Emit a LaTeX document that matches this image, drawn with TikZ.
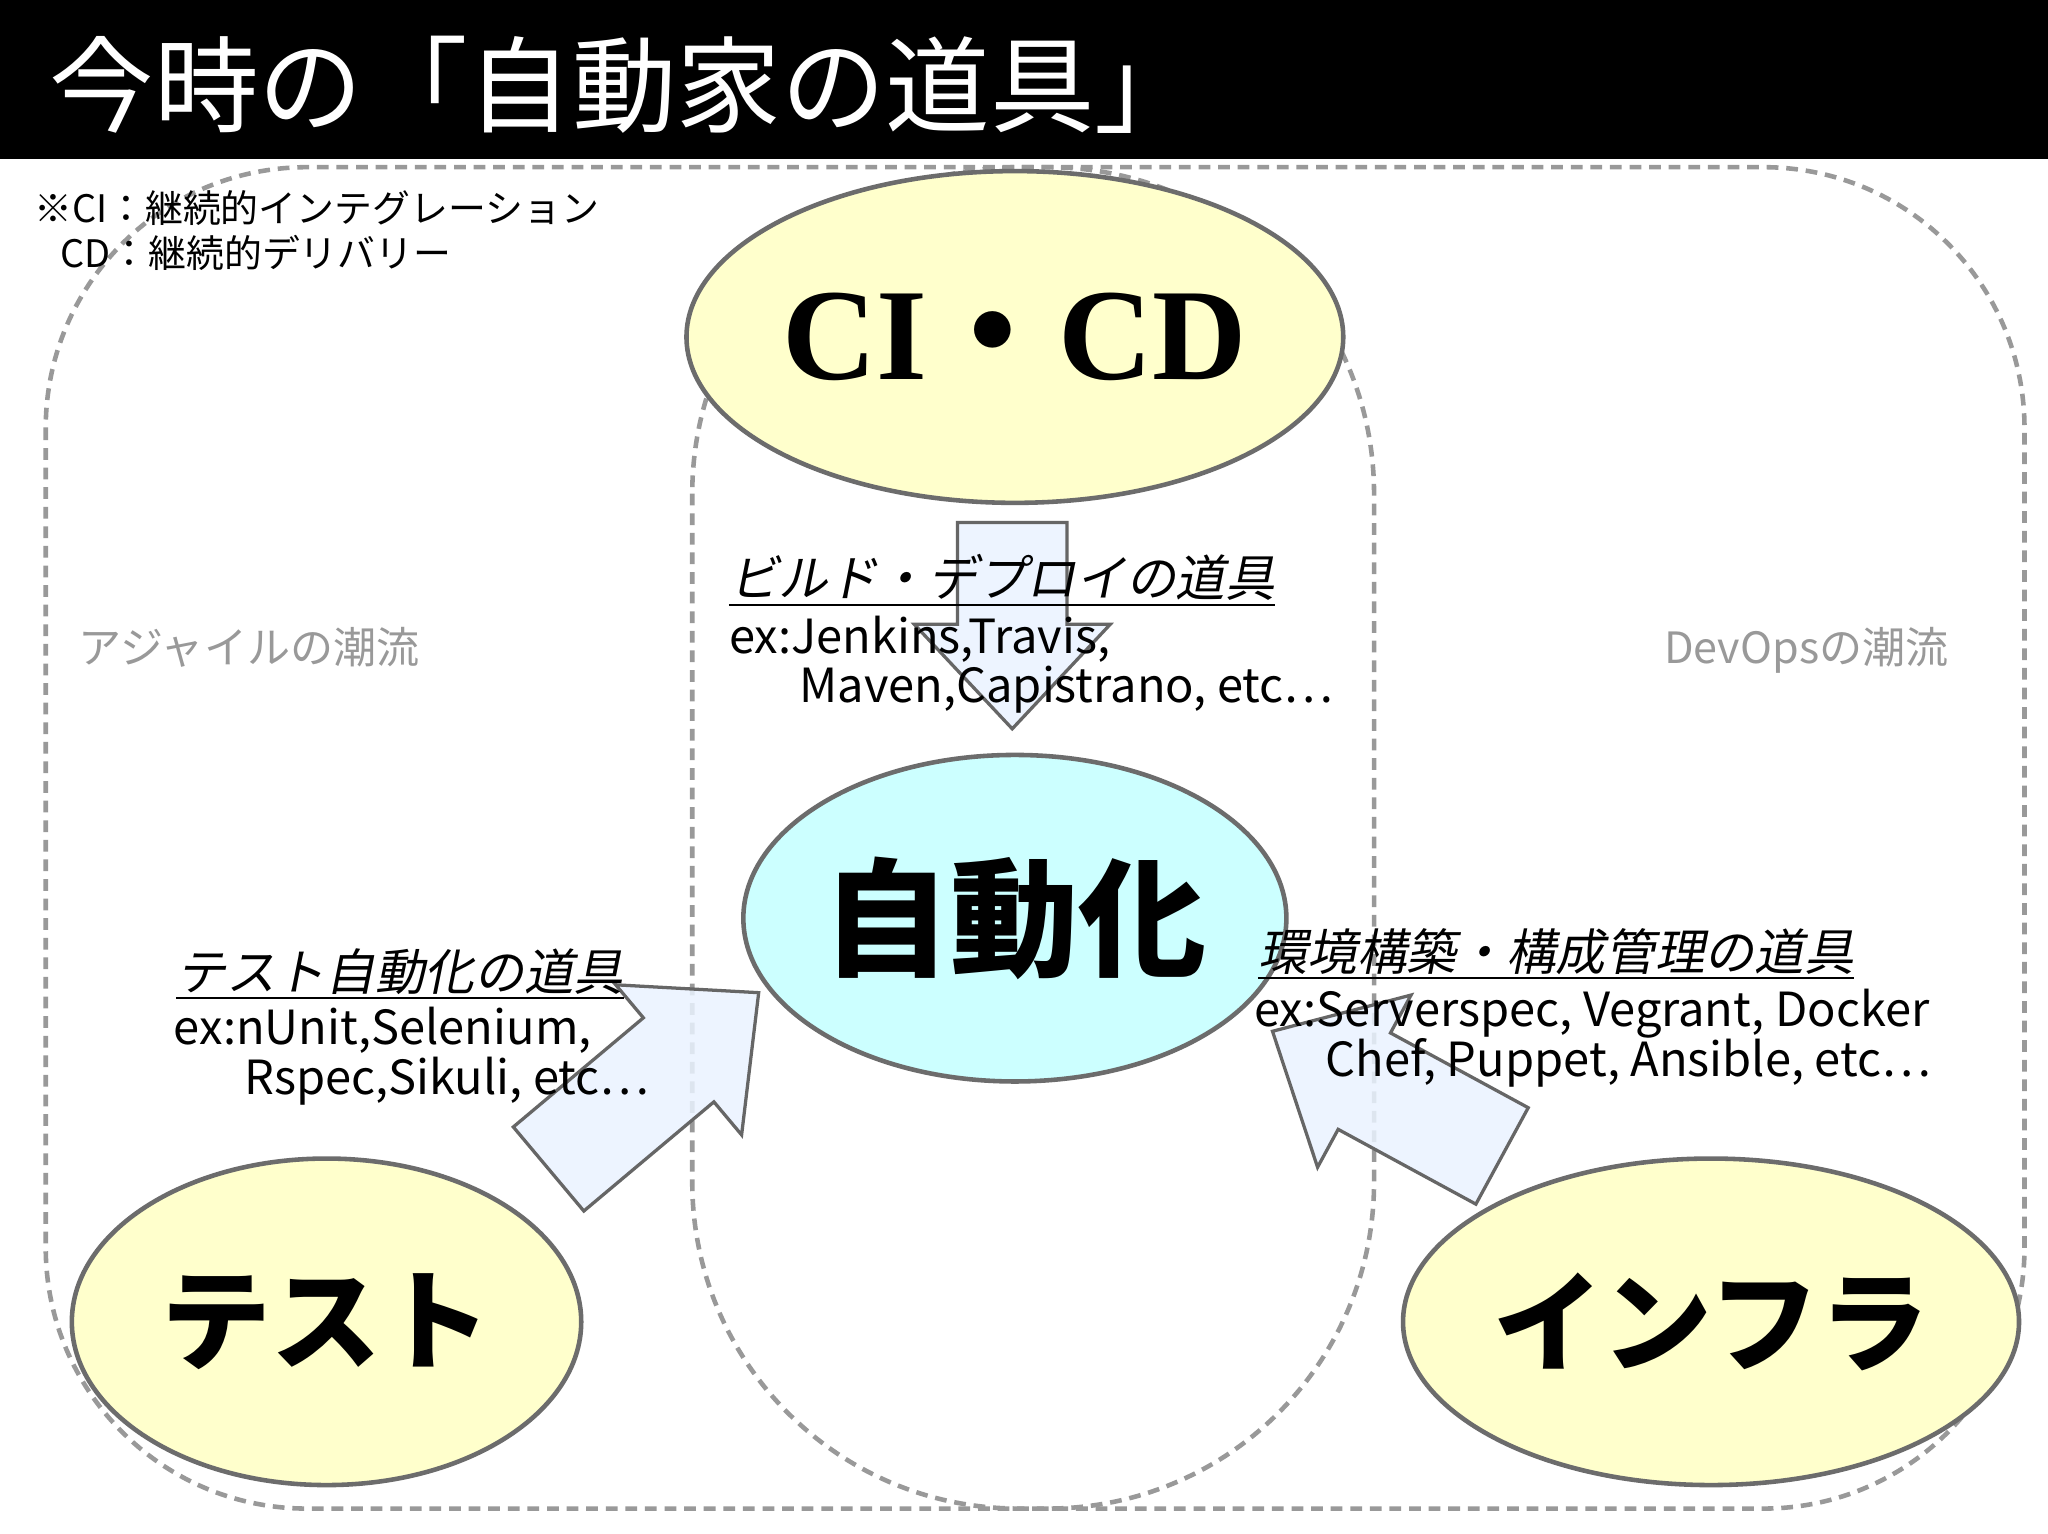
\documentclass[tikz,border=0pt]{standalone}
\usepackage{fontspec}
\setmainfont{Noto Sans CJK JP}
\newfontfamily\cjk{Noto Sans CJK JP}
\newfontfamily\cjkb{Noto Sans CJK JP Black}
\newfontfamily\cjki[FakeSlant=0.2]{Noto Sans CJK JP}
\newfontfamily\serb{Liberation Serif}
\usetikzlibrary{calc,shapes.geometric}
\definecolor{yel}{HTML}{FFFFCC}
\definecolor{cya}{HTML}{CCFFFF}
\definecolor{arr}{HTML}{EAF3FF}
\tikzset{
  zone/.style={draw=gray!80,line width=3.5pt,dash pattern=on 9pt off 6pt},
  bub/.style={draw=gray!85!black,line width=3.5pt},
  lbl/.style={anchor=base west,inner sep=0pt,font=\fontsize{36}{40}\selectfont\cjk},
  head/.style={anchor=base west,inner sep=0pt,font=\fontsize{38}{42}\selectfont\cjki},
  blk/.style={draw=gray!80!black,line width=2.5pt,fill=arr,fill opacity=0.85,line join=miter}
}
\newcommand{\blockarrow}[4]{% x,y,angle,length
  \begin{scope}[shift={(#1,#2)},rotate=#3]
    \path[blk] (0,-42)--(#4-80,-42)--(#4-80,-75)--(#4,0)--(#4-80,75)--(#4-80,42)--(0,42)--cycle;
  \end{scope}}
\begin{document}
\begin{tikzpicture}[x=1pt,y=-1pt]
\useasboundingbox (0,0) rectangle (1568,1174);
\fill[white] (0,0) rectangle (1568,1174);
\fill[black] (0,0) rectangle (1568,122);
\node[anchor=base west,inner sep=0pt,text=white,font=\fontsize{80}{80}\selectfont\cjk] (title) at (38,95) {今時の「自動家の道具」};
% zones
\draw[zone,rounded corners=200pt] (35,128) rectangle (1550,1155);
\draw[zone,rounded corners=250pt] (530,128) rectangle (1052,1155);
% notes
\node[anchor=base west,inner sep=0pt,font=\fontsize{29}{30}\selectfont\cjk] (n1) at (26,170) {※CI：継続的インテグレーション};
\node[anchor=base west,inner sep=0pt,font=\fontsize{29}{30}\selectfont\cjk] (n2) at (46,205) {CD：継続的デリバリー};
\node[anchor=base west,inner sep=0pt,text=gray!80,font=\fontsize{33}{34}\selectfont\cjk] (ag) at (60,508) {アジャイルの潮流};
\node[anchor=base east,inner sep=0pt,text=gray!80,font=\fontsize{33}{34}\selectfont\cjk] (dv) at (1492,508) {DevOpsの潮流};
% arrows
\blockarrow{775}{400}{-90}{158}
\blockarrow{420}{895}{40}{210}
\blockarrow{1150}{885}{151.5}{200}
% ellipses
\node[bub,fill=yel,ellipse,minimum width=390pt,minimum height=254pt,inner sep=0pt] (cicd) at (777,258)
  {\serb\bfseries\fontsize{100}{100}\selectfont CI{\cjk\bfseries ・}CD};
\node[bub,fill=cya,ellipse,minimum width=390pt,minimum height=250pt,inner sep=0pt] (auto) at (777,703)
  {\cjkb\fontsize{98}{98}\selectfont 自動化};
\node[bub,fill=yel,ellipse,minimum width=390pt,minimum height=250pt,inner sep=0pt] (test) at (250,1012)
  {\cjkb\fontsize{84}{84}\selectfont テスト};
\node[bub,fill=yel,ellipse,minimum width=390pt,minimum height=250pt,inner sep=0pt] (infra) at (1310,1012)
  {\cjkb\fontsize{84}{84}\selectfont インフラ};
% labels
\node[head] (b1) at (558,457) {ビルド・デプロイの道具};
\draw[line width=1.5pt] ($(b1.base west)+(0,6)$) -- ($(b1.base east)+(0,6)$);
\node[lbl] (b2) at (558,500) {ex:Jenkins,Travis,};
\node[lbl] (b3) at (612,538) {Maven,Capistrano, etc…};
\node[head] (t1) at (135,758) {テスト自動化の道具};
\draw[line width=1.5pt] ($(t1.base west)+(0,6)$) -- ($(t1.base east)+(0,6)$);
\node[lbl] (t2) at (133,800) {ex:nUnit,Selenium,};
\node[lbl] (t3) at (187,838) {Rspec,Sikuli, etc…};
\node[head] (i1) at (963,743) {環境構築・構成管理の道具};
\draw[line width=1.5pt] ($(i1.base west)+(0,6)$) -- ($(i1.base east)+(0,6)$);
\node[lbl] (i2) at (960,786) {ex:Serverspec, Vegrant, Docker};
\node[lbl] (i3) at (1015,824) {Chef, Puppet, Ansible, etc…};
\end{tikzpicture}
\end{document}
